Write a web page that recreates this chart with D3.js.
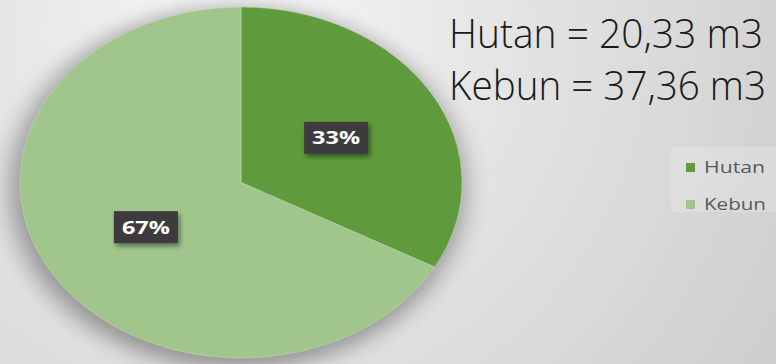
<!DOCTYPE html>
<html>
<head>
<meta charset="utf-8">
<script src="https://cdn.jsdelivr.net/npm/d3@7"></script>
<style>
  html, body { margin: 0; padding: 0; background: #e4e4e4; }
  svg { display: block; }
</style>
</head>
<body>
<svg id="chart"></svg>
<script>
// chart data
const categories = ["Hutan", "Kebun"];
const percents = [33, 67];
const volumes = ["20,33", "37,36"];
const colors = ["#5f9b3c", "#a1c68c"];

const W = 776, H = 364;
const cx = 241, cy = 182.5, rx = 221, ry = 175.5;

const svg = d3.select("#chart").attr("width", W).attr("height", H);
const defs = svg.append("defs");

// background gradient
const bg = defs.append("radialGradient").attr("id", "bg")
  .attr("gradientUnits", "userSpaceOnUse")
  .attr("cx", 240).attr("cy", 30).attr("r", 700);
bg.append("stop").attr("offset", 0).attr("stop-color", "#f7f7f7");
bg.append("stop").attr("offset", 0.45).attr("stop-color", "#e1e1e1");
bg.append("stop").attr("offset", 1).attr("stop-color", "#c9c9c9");
svg.append("rect").attr("width", W).attr("height", H).attr("fill", "url(#bg)");

const shadow = defs.append("filter").attr("id", "pieShadow")
  .attr("x", "-20%").attr("y", "-20%").attr("width", "140%").attr("height", "140%");
shadow.append("feGaussianBlur").attr("stdDeviation", 10);

const boxShadow = defs.append("filter").attr("id", "boxShadow")
  .attr("x", "-30%").attr("y", "-30%").attr("width", "160%").attr("height", "160%");
boxShadow.append("feDropShadow").attr("dx", 2).attr("dy", 3)
  .attr("stdDeviation", 2.5).attr("flood-color", "#000").attr("flood-opacity", 0.45);

// pie: circle of radius ry stretched horizontally to an ellipse
const pieG = svg.append("g")
  .attr("transform", `translate(${cx},${cy}) scale(${rx / ry},1)`);

pieG.append("ellipse")
  .attr("cx", -3).attr("cy", 6).attr("rx", ry + 5).attr("ry", ry + 5)
  .attr("fill", "#000").attr("opacity", 0.34)
  .attr("filter", "url(#pieShadow)");

const pie = d3.pie().sort(null).value(d => d.value);
const arc = d3.arc().innerRadius(0).outerRadius(ry);
const data = categories.map((c, i) => ({ key: c, value: percents[i], color: colors[i] }));
const arcs = pie(data);

pieG.selectAll(".slice")
  .data(arcs)
  .join("path")
  .attr("class", "slice")
  .attr("d", arc)
  .attr("fill", d => d.data.color)
  .attr("stroke", "#cfe3c2")
  .attr("stroke-width", 0.6)
  .attr("stroke-opacity", 0.6);

// data labels
const labels = svg.append("g").selectAll(".lbl")
  .data(arcs)
  .join("g")
  .attr("class", "lbl")
  .attr("transform", d => {
    const [x, y] = arc.centroid(d);
    return `translate(${cx + x * rx / ry},${cy + y})`;
  });

labels.append("rect")
  .attr("x", -32).attr("y", -16).attr("width", 64).attr("height", 32)
  .attr("fill", "#3d3b3e")
  .attr("filter", "url(#boxShadow)");

labels.append("text")
  .attr("text-anchor", "middle")
  .attr("dy", "0.36em")
  .attr("fill", "#ffffff")
  .attr("textLength", 48)
  .attr("lengthAdjust", "spacingAndGlyphs")
  .style("font-family", "'Open Sans', 'DejaVu Sans', sans-serif")
  .style("font-weight", 700)
  .style("font-size", "18px")
  .text(d => d.data.value + "%");

// annotation text (top right)
svg.append("g").selectAll(".note")
  .data(categories)
  .join("text")
  .attr("class", "note")
  .attr("x", 449)
  .attr("y", (d, i) => 48 + i * 52)
  .attr("fill", "#1a1a1a")
  .attr("textLength", (d, i) => i === 0 ? 314 : 317)
  .attr("lengthAdjust", "spacingAndGlyphs")
  .style("font-family", "'Open Sans', sans-serif")
  .style("font-weight", 300)
  .style("font-size", "40px")
  .text((d, i) => `${d} = ${volumes[i]} m3`);

// legend
const legend = svg.append("g").attr("transform", "translate(671,147)");
legend.append("rect")
  .attr("width", 105).attr("height", 65)
  .attr("fill", "#ffffff").attr("opacity", 0.18);

const items = legend.selectAll(".item")
  .data(data)
  .join("g")
  .attr("class", "item")
  .attr("transform", (d, i) => `translate(15,${16 + i * 37})`);

items.append("rect")
  .attr("width", 9).attr("height", 9)
  .attr("fill", d => d.color);

items.append("text")
  .attr("x", 18).attr("y", 10)
  .attr("fill", "#595959")
  .attr("textLength", (d, i) => i === 0 ? 61 : 62)
  .attr("lengthAdjust", "spacingAndGlyphs")
  .style("font-family", "'Open Sans', sans-serif")
  .style("font-size", "16px")
  .text(d => d.key);
</script>
</body>
</html>
